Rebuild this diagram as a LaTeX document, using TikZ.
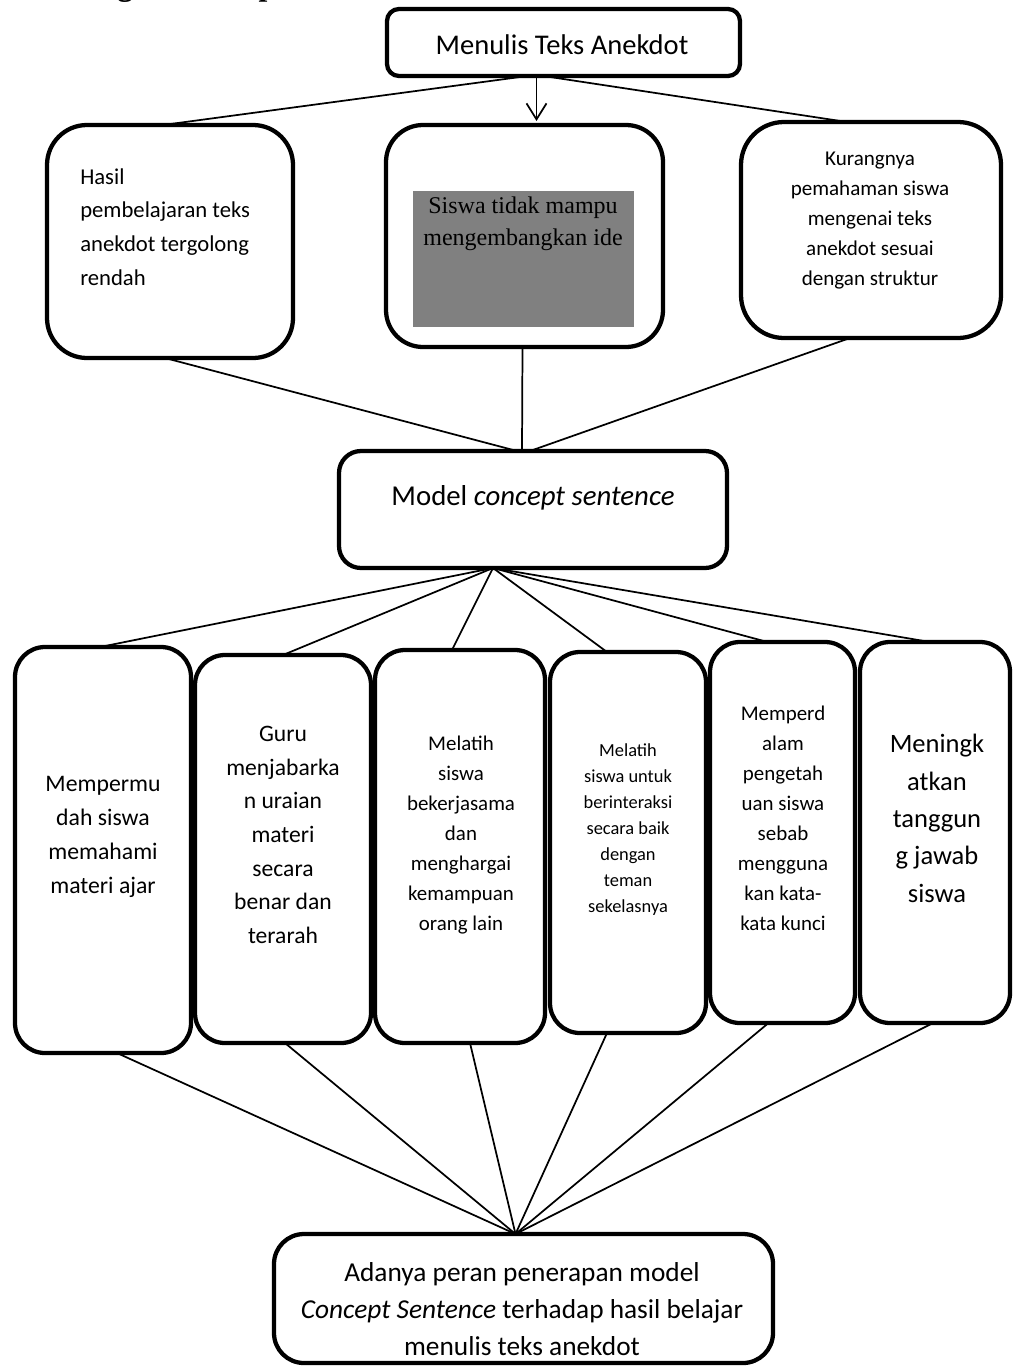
\documentclass[tikz,border=0pt]{standalone}
\usepackage{fontspec}
\setmainfont{Carlito}
\newfontfamily\timesf{Liberation Serif}
\usetikzlibrary{arrows.meta,calc}
\newcommand{\fsz}[2]{\fontsize{#1pt}{#2pt}\selectfont}
\newcommand{\mkbox}[6]{\node[boxstyle, rounded corners={#6*0.75pt}, minimum width={(#4-#2)*0.75pt}, minimum height={(#5-#3)*0.75pt}] (#1) at ({(#2+#4)/2},{(#3+#5)/2}) {};}
\begin{document}
\begin{tikzpicture}[x=0.75pt,y=-0.75pt,
  boxstyle/.style={draw, line width=3.2pt, inner sep=0pt, outer sep=0pt},
  conn/.style={line width=1.3pt},
  lbl/.style={inner sep=0pt, align=center}]
\useasboundingbox (0,0) rectangle (1013,1367);

% heading (mostly outside the page)
\node[anchor=base west, inner sep=0pt, font=\timesf\bfseries\fsz{23.7}{28}] (head) at (31,-4) {Kerangka Konseptual};

% boxes
\mkbox{top}{387}{9}{740}{76}{12}
\mkbox{hasil}{47}{125}{293}{358}{40}
\mkbox{mid}{386}{125}{663}{347}{37}
\mkbox{kur}{741}{122}{1001}{338}{43}
\mkbox{model}{339}{451}{727}{568}{22}
\mkbox{ba}{15}{647}{191}{1053}{30}
\mkbox{bb}{195}{655}{371}{1043}{30}
\mkbox{bc}{375}{650}{545}{1043}{30}
\mkbox{bd}{550}{652}{706}{1033}{30}
\mkbox{be}{710}{642}{855}{1023}{30}
\mkbox{bf}{860}{642}{1010}{1023}{30}
\mkbox{fin}{274}{1234}{773}{1363}{30}

% gray panel
\node[fill={rgb,255:red,128;green,128;blue,128}, inner sep=0pt, minimum width={221*0.75pt}, minimum height={136*0.75pt}] (gray) at (523.5,259) {};

% connectors
\draw[conn] ($(top.south)+(-36,0)$) -- ($(hasil.north)+(-7,0)$);
\draw[conn] ($(top.south)+(-20,0)$) -- ($(kur.north)+(-24,0)$);
\draw[conn, -{Straight Barb[length=12pt,width=15pt,line width=1.3pt]}, shorten >=3pt] ($(top.south)+(-27,0)$) -- ($(mid.north)+(12,0)$);

\draw[conn] ($(hasil.south)+(-5,0)$) -- ($(model.north)+(-16,0)$);
\draw[conn] ($(mid.south)+(-2,0)$) -- ($(model.north)+(-11,0)$);
\draw[conn] ($(kur.south)+(-21,0)$) -- ($(model.north)+(-3,0)$);

\coordinate (mb) at ($(model.south)+(-40,0)$);
\draw[conn] (mb) -- ($(ba.north)+(-3,0)$);
\draw[conn] (mb) -- (bb.north);
\draw[conn] (mb) -- ($(bc.north)+(-8,0)$);
\draw[conn] (mb) -- ($(bd.north)+(-21,0)$);
\draw[conn] (mb) -- ($(be.north)+(-15,0)$);
\draw[conn] (mb) -- ($(bf.north)+(-5,0)$);

\coordinate (ft) at ($(fin.north)+(-8,0)$);
\draw[conn] ($(ba.south)+(14,0)$) -- (ft);
\draw[conn] ($(bb.south)+(2,0)$) -- (ft);
\draw[conn] ($(bc.south)+(10,0)$) -- (ft);
\draw[conn] ($(bd.south)+(-21,0)$) -- (ft);
\draw[conn] ($(be.south)+(-14,0)$) -- (ft);
\draw[conn] ($(bf.south)+(-2,0)$) -- (ft);

% texts
\node[lbl, font=\fsz{21.4}{26}] (ttop) at (562,45) {Menulis Teks Anekdot};
\node[lbl, align=left, anchor=west, font=\fsz{17}{25.3}] (thasil) at (80,227) {Hasil\\pembelajaran teks\\anekdot tergolong\\rendah};
\node[lbl, font=\timesf\fsz{18}{24}] (tmid) at (523,223.5) {Siswa tidak mampu\\mengembangkan ide};
\node[lbl, font=\fsz{15.8}{22.5}] (tkur) at (870,221) {Kurangnya\\pemahaman siswa\\mengenai teks\\anekdot sesuai\\dengan struktur};
\node[lbl, font=\fsz{21.6}{26}] (tmodel) at (533,498) {Model \textit{concept sentence}};

\node[lbl, font=\fsz{17.8}{25.5}] (ta) at (103,837) {Mempermu\\dah siswa\\memahami\\materi ajar};
\node[lbl, font=\fsz{17.7}{25.2}] (tb) at (283,835) {Guru\\menjabarka\\n uraian\\materi\\secara\\benar dan\\terarah};
\node[lbl, font=\fsz{15.7}{22.5}] (tc) at (461,835) {Melatih\\siswa\\bekerjasama\\dan\\menghargai\\kemampuan\\orang lain};
\node[lbl, font=\fsz{13.8}{19.5}] (td) at (628,829.5) {Melatih\\siswa untuk\\berinteraksi\\secara baik\\dengan\\teman\\sekelasnya};
\node[lbl, font=\fsz{15.7}{22.5}] (te) at (783,818.5) {Memperd\\alam\\pengetah\\uan siswa\\sebab\\mengguna\\kan kata-\\kata kunci};
\node[lbl, font=\fsz{19.9}{28}] (tf) at (937,818.5) {Meningk\\atkan\\tanggun\\g jawab\\siswa};

\node[lbl, font=\fsz{20.5}{27.8}] (tfin) at (522,1309) {Adanya peran penerapan model\\\textit{Concept Sentence} terhadap hasil belajar\\menulis teks anekdot};
\end{tikzpicture}
\end{document}
